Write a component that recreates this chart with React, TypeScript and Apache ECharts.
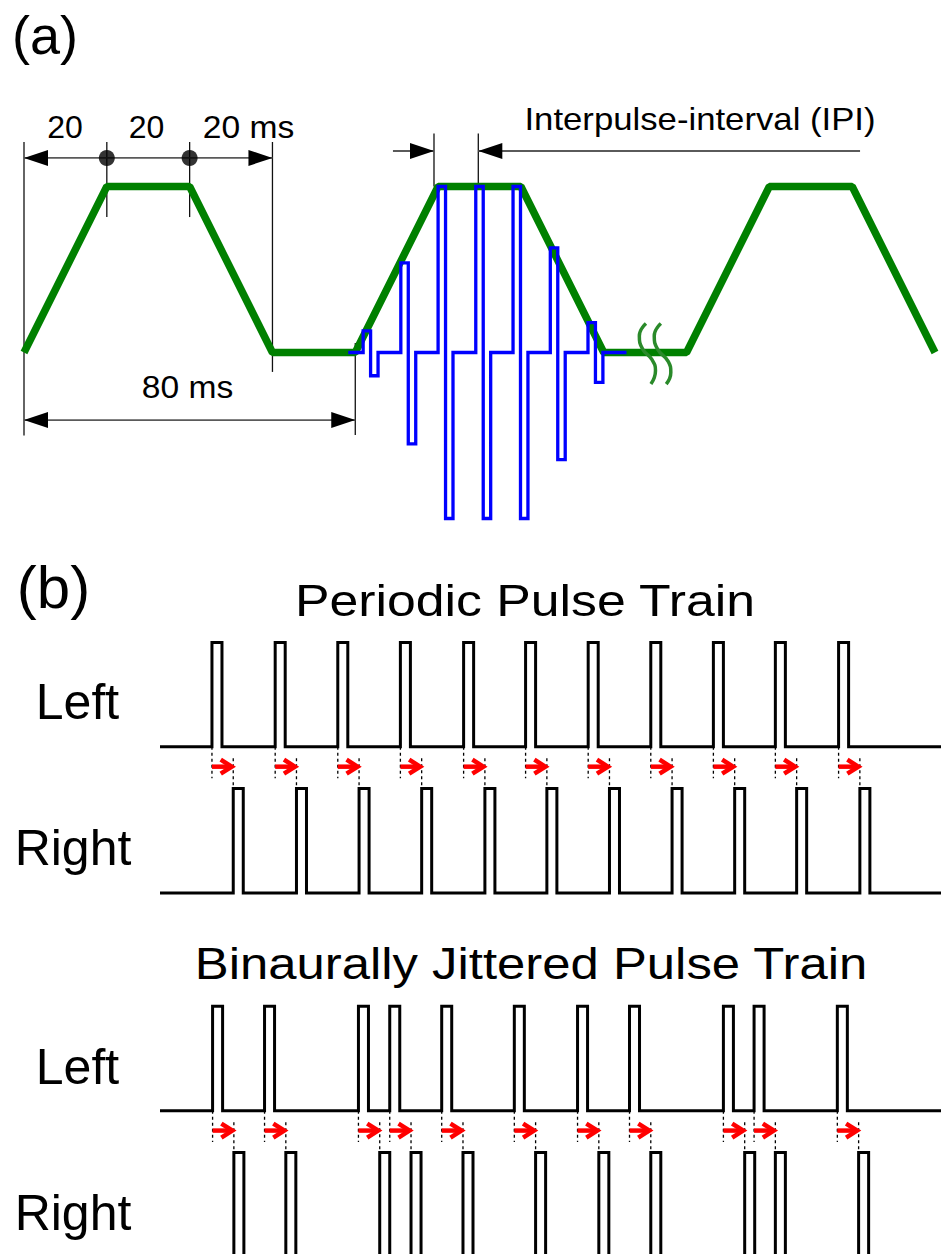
import React, { useEffect, useRef } from "react";
import * as echarts from "echarts";

// ---------- Panel (a): envelope (time in ms, normalized level) ----------
const envelopeTimes = [0, 20, 40, 60, 80, 100, 120, 140, 160, 180, 200, 220];
const envelopeLevels = [0, 1, 1, 0, 0, 1, 1, 0, 0, 1, 1, 0];

// biphasic pulses inside the second envelope
const pulseOnsets = [81.9, 91.0, 100.0, 109.1, 118.1, 127.1, 136.2];
const pulsePosAmp = [0.13, 0.54, 1.0, 1.0, 1.0, 0.63, 0.18];
const pulseNegAmp = [0.14, 0.55, 1.0, 1.0, 1.0, 0.645, 0.18];
const phaseWidth = 1.8;
const signalStart = 78.3;
const signalEnd = 145.5;

// break marks (ms, level)
const breakMarkA = [
  [150.2, 0.175],
  [148.6, 0.1],
  [149.4, 0.02],
  [151.7, -0.045],
  [152.5, -0.11],
  [151.4, -0.19],
];
const breakMarkB = [
  [153.8, 0.175],
  [152.2, 0.1],
  [153.0, 0.02],
  [155.6, -0.055],
  [156.2, -0.12],
  [155.1, -0.19],
];

// dimension annotations: [x1, y1, x2, y2, headStart, headEnd]
const dimArrows = [
  [0, 1.172, 60, 1.172, 1, 1],
  [0, -0.407, 80, -0.407, 1, 1],
  [89.1, 1.214, 99.01, 1.214, 0, 1],
  [109.71, 1.214, 201.9, 1.214, 1, 0],
];
const extensionLines = [
  [0, 1.268, 0, -0.5],
  [20, 1.268, 20, 0.816],
  [40, 1.268, 40, 0.816],
  [60, 1.268, 60, -0.117],
  [80, 0.057, 80, -0.497],
  [99.01, 1.32, 99.01, 1.0],
  [109.71, 1.32, 109.71, 1.0],
];
const dimDots = [
  [20, 1.172],
  [40, 1.172],
];

// ---------- Panel (b): pulse trains (time units, IPI = 10) ----------
const periodicLeft = [8.3, 18.4, 28.4, 38.4, 48.5, 58.4, 68.4, 78.4, 88.4, 98.3, 108.4];
const jitteredLeft = [8.4, 16.7, 31.7, 36.7, 45.0, 56.6, 66.7, 75.0, 90.0, 94.9, 108.2];
const itd = 3.4;
const clickWidth = 1.6;
const leftBase = 1.4;
const rightBase = 0;
const clickHeight = 1;
const trainEnd = 124.76;

// ---------- layout ----------
const A_LEFT = 24;
const A_PX_PER_MS = 911 / 220;
const A_BASE_Y = 352.5;
const A_PX_PER_UNIT = 166;
const B_PX_PER_UNIT = 104.4;
const FONT = '"Liberation Sans", Arial, Helvetica, sans-serif';

function envelopeData() {
  return envelopeTimes.map((t, i) => [t, envelopeLevels[i]]);
}

function pulseSignal() {
  const pts: number[][] = [[signalStart, 0]];
  pulseOnsets.forEach((t, i) => {
    const a = pulsePosAmp[i];
    const b = pulseNegAmp[i];
    pts.push([t, 0], [t, a], [t + phaseWidth, a], [t + phaseWidth, -b], [t + 2 * phaseWidth, -b], [t + 2 * phaseWidth, 0]);
  });
  pts.push([signalEnd, 0]);
  return pts;
}

function clickTrain(onsets: number[], base: number) {
  const pts: number[][] = [[0, base]];
  onsets.forEach((t) => {
    pts.push([t, base], [t, base + clickHeight], [t + clickWidth, base + clickHeight], [t + clickWidth, base]);
  });
  pts.push([trainEnd, base]);
  return pts;
}

function segSeries(idx: number, data: number[][], style: any) {
  return {
    type: "custom",
    coordinateSystem: "cartesian2d",
    xAxisIndex: idx,
    yAxisIndex: idx,
    silent: true,
    clip: false,
    dimensions: ["x1", "y1", "x2", "y2"],
    encode: { x: [0, 2], y: [1, 3] },
    data,
    renderItem: (_p: any, api: any) => {
      const a = api.coord([api.value(0), api.value(1)]);
      const b = api.coord([api.value(2), api.value(3)]);
      return {
        type: "line",
        shape: { x1: a[0], y1: a[1], x2: b[0], y2: b[1] },
        style: { ...style },
      };
    },
  };
}

function dimArrowSeries(idx: number, data: number[][]) {
  const L = 24;
  const W = 16;
  return {
    type: "custom",
    coordinateSystem: "cartesian2d",
    xAxisIndex: idx,
    yAxisIndex: idx,
    silent: true,
    clip: false,
    dimensions: ["x1", "y1", "x2", "y2", "hs", "he"],
    encode: { x: [0, 2], y: [1, 3] },
    data,
    renderItem: (_p: any, api: any) => {
      const a = api.coord([api.value(0), api.value(1)]);
      const b = api.coord([api.value(2), api.value(3)]);
      const dx = b[0] - a[0];
      const dy = b[1] - a[1];
      const len = Math.hypot(dx, dy) || 1;
      const ux = dx / len;
      const uy = dy / len;
      const px = -uy;
      const py = ux;
      const children: any[] = [
        {
          type: "line",
          shape: { x1: a[0], y1: a[1], x2: b[0], y2: b[1] },
          style: { stroke: "#5a5a5a", lineWidth: 1.8 },
        },
      ];
      const head = (tip: number[], dir: number) => ({
        type: "polygon",
        shape: {
          points: [
            [tip[0], tip[1]],
            [tip[0] - dir * ux * L + (px * W) / 2, tip[1] - dir * uy * L + (py * W) / 2],
            [tip[0] - dir * ux * L - (px * W) / 2, tip[1] - dir * uy * L - (py * W) / 2],
          ],
        },
        style: { fill: "#000" },
      });
      if (api.value(4)) children.push(head(a, -1));
      if (api.value(5)) children.push(head(b, 1));
      return { type: "group", children };
    },
  };
}

function redArrowSeries(idx: number, onsets: number[], y: number) {
  const L = 11;
  const H = 14;
  return {
    type: "custom",
    coordinateSystem: "cartesian2d",
    xAxisIndex: idx,
    yAxisIndex: idx,
    silent: true,
    clip: false,
    dimensions: ["x1", "y1", "x2", "y2"],
    encode: { x: [0, 2], y: [1, 3] },
    data: onsets.map((t) => [t, y, t + itd, y]),
    renderItem: (_p: any, api: any) => {
      const a = api.coord([api.value(0), api.value(1)]);
      const b = api.coord([api.value(2), api.value(3)]);
      const tip = [b[0] - 1.5, b[1]];
      return {
        type: "group",
        children: [
          {
            type: "line",
            shape: { x1: a[0], y1: a[1], x2: tip[0] - 2, y2: tip[1] },
            style: { stroke: "#ff0000", lineWidth: 4.5 },
          },
          {
            type: "polyline",
            shape: {
              points: [
                [tip[0] - L, tip[1] - H / 2],
                [tip[0], tip[1]],
                [tip[0] - L, tip[1] + H / 2],
              ],
            },
            style: { stroke: "#ff0000", lineWidth: 4.5, fill: "none", lineJoin: "miter", lineCap: "butt" },
          },
        ],
      };
    },
  };
}

function trainSeries(idx: number, onsets: number[]) {
  const rightOnsets = onsets.map((t) => t + itd);
  const lineStyle = { width: 3, color: "#000", join: "miter", cap: "butt" };
  const dash = { stroke: "#000", lineWidth: 1.3, lineDash: [3, 3] };
  return [
    {
      type: "line",
      xAxisIndex: idx,
      yAxisIndex: idx,
      data: clickTrain(onsets, leftBase),
      symbol: "none",
      clip: false,
      silent: true,
      lineStyle,
    },
    {
      type: "line",
      xAxisIndex: idx,
      yAxisIndex: idx,
      data: clickTrain(rightOnsets, rightBase),
      symbol: "none",
      clip: false,
      silent: true,
      lineStyle,
    },
    segSeries(idx, onsets.map((t) => [t, leftBase, t, 1.1]), dash),
    segSeries(idx, rightOnsets.map((t) => [t, 1.29, t, rightBase + clickHeight]), dash),
    redArrowSeries(idx, onsets, 1.21),
  ];
}

function txt(text: string, x: number, y: number, size: number, sx = 1) {
  return {
    type: "text",
    x,
    y,
    scaleX: sx,
    silent: true,
    style: {
      text,
      fill: "#000",
      fontSize: size,
      fontFamily: FONT,
      align: "center",
      verticalAlign: "middle",
    },
  };
}

function buildOption() {
  const aTop = A_BASE_Y - 1.6 * A_PX_PER_UNIT;
  const bPerTop = 893 - 2.6 * B_PX_PER_UNIT;
  const bJitTop = 1256.9 - 2.6 * B_PX_PER_UNIT;
  const hidden = { show: false };
  return {
    animation: false,
    backgroundColor: "#ffffff",
    grid: [
      { left: A_LEFT, top: aTop, width: 220 * A_PX_PER_MS, height: 2.8 * A_PX_PER_UNIT, outerBoundsMode: "none", containLabel: false },
      { left: 160, top: bPerTop, width: 781, height: 2.8 * B_PX_PER_UNIT, outerBoundsMode: "none", containLabel: false },
      { left: 160, top: bJitTop, width: 781, height: 2.8 * B_PX_PER_UNIT, outerBoundsMode: "none", containLabel: false },
    ],
    xAxis: [
      { type: "value", gridIndex: 0, min: 0, max: 220, ...hidden },
      { type: "value", gridIndex: 1, min: 0, max: trainEnd, ...hidden },
      { type: "value", gridIndex: 2, min: 0, max: trainEnd, ...hidden },
    ],
    yAxis: [
      { type: "value", gridIndex: 0, min: -1.2, max: 1.6, ...hidden },
      { type: "value", gridIndex: 1, min: -0.2, max: 2.6, ...hidden },
      { type: "value", gridIndex: 2, min: -0.2, max: 2.6, ...hidden },
    ],
    series: [
      segSeries(0, extensionLines, { stroke: "#111", lineWidth: 1.3 }),
      dimArrowSeries(0, dimArrows),
      {
        type: "scatter",
        xAxisIndex: 0,
        yAxisIndex: 0,
        data: dimDots,
        symbol: "circle",
        symbolSize: 16,
        silent: true,
        itemStyle: { color: "#000" },
      },
      {
        type: "line",
        xAxisIndex: 0,
        yAxisIndex: 0,
        data: envelopeData(),
        symbol: "none",
        clip: false,
        silent: true,
        lineStyle: { width: 7.5, color: "#008000", join: "bevel", cap: "butt" },
      },
      {
        type: "line",
        xAxisIndex: 0,
        yAxisIndex: 0,
        data: breakMarkA,
        symbol: "none",
        smooth: 0.5,
        clip: false,
        silent: true,
        lineStyle: { width: 3.5, color: "#2a8a2a" },
      },
      {
        type: "line",
        xAxisIndex: 0,
        yAxisIndex: 0,
        data: breakMarkB,
        symbol: "none",
        smooth: 0.5,
        clip: false,
        silent: true,
        lineStyle: { width: 3.5, color: "#2a8a2a" },
      },
      {
        type: "line",
        xAxisIndex: 0,
        yAxisIndex: 0,
        data: pulseSignal(),
        symbol: "none",
        clip: false,
        silent: true,
        lineStyle: { width: 3.3, color: "#0000ff", join: "miter", cap: "butt" },
      },
      ...trainSeries(1, periodicLeft),
      ...trainSeries(2, jitteredLeft),
    ],
    graphic: [
      txt("(a)", 45, 35, 54),
      txt("20", 65, 127, 32),
      txt("20", 146.5, 127, 32),
      txt("20 ms", 248.5, 127, 32, 1.05),
      txt("80 ms", 187.5, 387, 32, 1.05),
      txt("Interpulse-interval (IPI)", 700, 119, 31, 1.12),
      txt("(b)", 53.5, 587, 60),
      txt("Periodic Pulse Train", 525, 600, 45, 1.15),
      txt("Left", 77.5, 702, 50),
      txt("Right", 73, 848, 50),
      txt("Binaurally Jittered Pulse Train", 531, 964, 45, 1.13),
      txt("Left", 77.5, 1067, 50),
      txt("Right", 73, 1213, 50),
    ],
  };
}

export default function App() {
  const ref = useRef<HTMLDivElement>(null);
  useEffect(() => {
    if (!ref.current) return;
    const chart = echarts.init(ref.current, undefined, { renderer: "svg" });
    chart.setOption(buildOption() as any);
    return () => {
      chart.dispose();
    };
  }, []);
  return (
    <div
      ref={ref}
      style={{ position: "fixed", left: 0, top: 0, width: 941, height: 1254, background: "#fff" }}
    />
  );
}
